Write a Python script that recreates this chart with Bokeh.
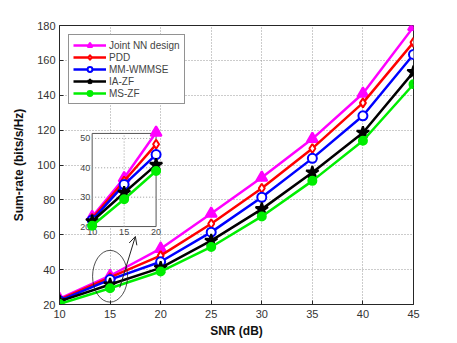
from bokeh.plotting import figure
from bokeh.models import Range1d, Arrow, OpenHead, Legend, LegendItem
from bokeh.core.properties import value
from bokeh.embed import file_html
from bokeh.resources import INLINE

snr = [10, 15, 20, 25, 30, 35, 40, 45]
joint_nn = [23.3, 36.5, 52.0, 72.2, 92.8, 115.0, 141.0, 179.2]
pdd = [22.8, 35.5, 48.0, 66.3, 86.7, 109.5, 135.6, 170.3]
mm_wmmse = [22.2, 34.3, 44.5, 61.5, 81.5, 103.8, 128.2, 163.4]
ia_zf = [21.8, 31.5, 41.0, 56.6, 74.7, 95.7, 118.5, 153.3]
ms_zf = [20.3, 29.3, 38.9, 53.0, 70.5, 90.9, 113.9, 146.3]

series_names = ["Joint NN design", "PDD", "MM-WMMSE", "IA-ZF", "MS-ZF"]
series_values = [joint_nn, pdd, mm_wmmse, ia_zf, ms_zf]
colors = ["#ff00ff", "#ff0000", "#0000ff", "#000000", "#00ee00"]
markers = ["triangle", "diamond", "circle", "star", "circle"]
marker_sizes = [11, 9, 9, 13, 8]
marker_fills = [True, False, False, True, True]

x_ticks = [10, 15, 20, 25, 30, 35, 40, 45]
y_ticks = [20, 40, 60, 80, 100, 120, 140, 160, 180]

# inset (zoom on the first three SNR points)
inset_snr = snr[:3]
inset_x_ticks = [10, 15, 20]
inset_y_ticks = [20, 30, 40, 50]
inset_x_src = (10, 20)
inset_y_src = (20, 51.7)
inset_x_tgt = (13.23, 19.55)
inset_y_tgt = (64.7, 118.1)

# ellipse + arrow annotation
ell_x, ell_y, ell_w, ell_h = 15.0, 36.2, 3.46, 29.7
arr_x0, arr_y0, arr_x1, arr_y1 = 15.96, 29.7, 17.5, 59.0

FONT = "Liberation Sans"

p = figure(width=450, height=340, output_backend="svg", toolbar_location=None,
           x_range=Range1d(10, 45), y_range=Range1d(20, 180),
           min_border_left=59, min_border_right=37, min_border_top=25,
           min_border_bottom=35)
p.background_fill_color = "white"
p.outline_line_color = "#262626"
p.outline_line_width = 1

p.xaxis.ticker = x_ticks
p.yaxis.ticker = y_ticks
for ax in (p.xaxis[0], p.yaxis[0]):
    ax.major_tick_in = 4
    ax.major_tick_out = 0
    ax.minor_tick_in = 0
    ax.minor_tick_out = 0
    ax.axis_line_color = "#262626"
    ax.major_tick_line_color = "#262626"
    ax.major_label_text_font = FONT
    ax.major_label_text_font_size = "11px"
    ax.major_label_text_color = "#333333"
    ax.axis_label_text_font = FONT
    ax.axis_label_text_font_size = "12px"
    ax.axis_label_text_font_style = "bold"
    ax.axis_label_text_color = "#111111"
p.xaxis.axis_label = "SNR (dB)"
p.yaxis.axis_label = "Sum-rate (bits/s/Hz)"
p.xaxis.major_label_standoff = 5
p.xaxis.axis_label_standoff = 3
p.yaxis.major_label_standoff = 4
p.yaxis.axis_label_standoff = 8

p.grid.grid_line_color = "#999999"
p.grid.grid_line_dash = "1 2"
p.grid.grid_line_width = 1

items = []
for name, vals, c, m, s, f in zip(series_names, series_values, colors, markers, marker_sizes, marker_fills):
    r1 = p.line(snr, vals, line_color=c, line_width=2.5)
    r2 = p.scatter(snr, vals, marker=m, size=s, line_color=c, line_width=2,
                   fill_color=c if f else "white")
    items.append(LegendItem(label=name, renderers=[r1, r2]))

legend = Legend(items=items, location="top_left")
legend.margin = 9
legend.padding = 4
legend.spacing = 0
legend.glyph_width = 33
legend.glyph_height = 12
legend.label_height = 12
legend.label_standoff = 3
legend.label_text_font = FONT
legend.label_text_font_size = "10px"
legend.border_line_color = "#262626"
legend.border_line_width = 1
legend.background_fill_alpha = 1
p.add_layout(legend, "center")

# ellipse and arrow
p.ellipse(x=[ell_x], y=[ell_y], width=[ell_w], height=[ell_h],
          fill_color=None, line_color="#222222", line_width=0.8)
p.add_layout(Arrow(end=OpenHead(size=8, line_width=1, line_color="#222222"),
                   x_start=arr_x0, y_start=arr_y0, x_end=arr_x1, y_end=arr_y1,
                   line_width=1, line_color="#222222"))

# inset
sub = p.subplot(x_source=Range1d(*inset_x_src), y_source=Range1d(*inset_y_src),
                x_target=Range1d(*inset_x_tgt), y_target=Range1d(*inset_y_tgt))
sub.quad(left=[inset_x_src[0]], right=[inset_x_src[1]], bottom=[inset_y_src[0]],
         top=[inset_y_src[1]], fill_color="white", line_color="#555555", line_width=1)
inner_x = [t for t in inset_x_ticks[1:-1]]
inner_y = [t for t in inset_y_ticks[1:]]
sub.segment(x0=inner_x, x1=inner_x, y0=[inset_y_src[0]] * len(inner_x),
            y1=[inset_y_src[1]] * len(inner_x), line_color="#999999", line_dash="1 2")
sub.segment(x0=[inset_x_src[0]] * len(inner_y), x1=[inset_x_src[1]] * len(inner_y),
            y0=inner_y, y1=inner_y, line_color="#999999", line_dash="1 2")
sub.text(x=inset_x_ticks, y=[inset_y_src[0]] * len(inset_x_ticks),
         text=[str(t) for t in inset_x_ticks], text_align="center", text_baseline="top",
         y_offset=2, text_font=value(FONT), text_font_size="9px", text_color="#444444")
sub.text(x=[inset_x_src[0]] * len(inset_y_ticks), y=inset_y_ticks,
         text=[str(t) for t in inset_y_ticks], text_align="right", text_baseline="middle",
         x_offset=-2, text_font=value(FONT), text_font_size="9px", text_color="#444444")
for vals, c, m, s, f in zip(series_values, colors, markers, marker_sizes, marker_fills):
    v = vals[:3]
    sub.line(inset_snr, v, line_color=c, line_width=2.5)
    sub.scatter(inset_snr, v, marker=m, size=s, line_color=c, line_width=2,
                fill_color=c if f else "white")

open("out.html", "w").write(file_html(p, INLINE))
